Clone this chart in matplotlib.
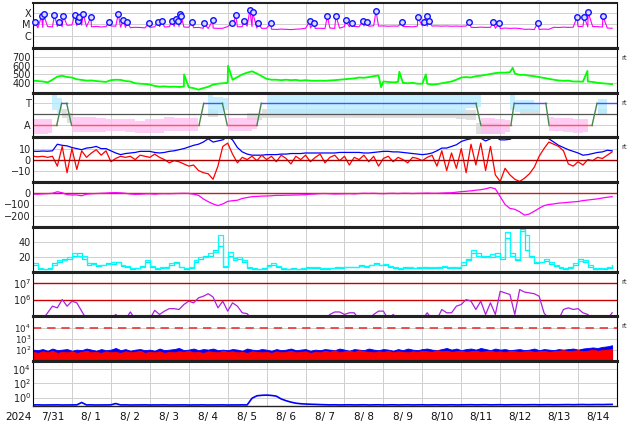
import numpy as np
import matplotlib
matplotlib.use("Agg")
import matplotlib.pyplot as plt

# ---------------- data (time in days since 2024-07-31 00:00) ----------------
date_labels = ['7/31', '8/ 1', '8/ 2', '8/ 3', '8/ 4', '8/ 5', '8/ 6', '8/ 7',
               '8/ 8', '8/ 9', '8/10', '8/11', '8/12', '8/13', '8/14']
year_label = '2024'

# X-ray background flux (units 1e-6 W/m2), 3-hourly
xray_bg = [4.6, 5.0, 5.5, 6.5, 6.2, 6.8, 6.5, 8.5, 9.0, 8.0,
           8.8, 6.5, 6.2, 6.8, 6.0, 6.5, 7.4, 7.0, 5.8, 5.5,
           5.2, 5.6, 5.4, 5.0, 5.5, 6.2, 6.5, 6.0, 6.3, 6.8,
           6.5, 6.0, 5.6, 5.2, 5.5, 4.6, 4.4, 4.8, 4.5, 4.6,
           6.5, 6.8, 6.2, 6.5, 7.0, 6.5, 4.8, 4.5, 4.6, 3.8,
           3.6, 3.9, 3.7, 3.5, 3.8, 4.0, 4.6, 4.8, 4.5, 4.6,
           4.4, 4.8, 4.5, 4.7, 6.5, 6.2, 6.8, 6.3, 7.4, 7.0,
           7.6, 7.2, 7.5, 7.0, 7.3, 7.1, 6.8, 6.5, 6.2, 7.2,
           7.4, 7.0, 7.3, 7.5, 7.1, 7.4, 7.0, 7.2, 6.9, 7.3,
           5.6, 5.4, 5.8, 5.5, 5.6, 4.6, 4.4, 4.8, 4.5, 4.7,
           4.4, 3.7, 3.8, 3.5, 3.6, 3.9, 3.7, 5.6, 5.4, 5.8,
           5.5, 5.7, 6.5, 6.8, 6.2, 6.6, 6.4, 6.0, 4.8, 4.6]
# flare peaks: time (days) and peak flux (W/m2)
flare_t = [0.05, 0.22, 0.27, 0.55, 0.67, 0.78, 1.07, 1.16, 1.19, 1.29,
           1.49, 1.96, 2.19, 2.32, 2.42, 2.98, 3.21, 3.32, 3.57, 3.68,
           3.73, 3.78, 3.81, 4.08, 4.39, 4.62, 5.11, 5.21, 5.42, 5.57,
           5.64, 5.78, 6.11, 7.11, 7.21, 7.56, 7.78, 8.03, 8.19, 8.47,
           8.57, 8.81, 9.49, 9.88, 10.03, 10.11, 10.17, 11.21, 11.82, 11.98,
           12.96, 13.97, 14.16, 14.26, 14.64]
flare_peak = [1.8e-5, 5.8e-5, 8.1e-5, 6.6e-5, 1.6e-5, 5.8e-5, 6.6e-5, 1.9e-5, 4.4e-5, 8.1e-5,
              4.7e-5, 1.6e-5, 8.1e-5, 2.4e-5, 1.6e-5, 1.3e-5, 1.6e-5, 1.9e-5, 1.9e-5, 2.9e-5,
              1.9e-5, 8.1e-5, 5.4e-5, 1.6e-5, 1.3e-5, 2.4e-5, 1.3e-5, 6.6e-5, 1.9e-5, 1.9e-4,
              1.2e-4, 1.3e-5, 1.3e-5, 1.9e-5, 1.3e-5, 5.4e-5, 6.1e-5, 2.4e-5, 1.3e-5, 1.9e-5,
              1.6e-5, 1.6e-4, 1.6e-5, 4.4e-5, 1.6e-5, 5.4e-5, 1.9e-5, 1.6e-5, 1.6e-5, 1.3e-5,
              1.3e-5, 4.4e-5, 4.4e-5, 1.2e-4, 5.4e-5]

# solar wind speed (km/s), 3-hourly, plus isolated spikes
speed = [430, 425, 420, 410, 440, 475, 485, 470, 465, 445,
         438, 430, 432, 425, 420, 415, 435, 440, 438, 425,
         420, 400, 395, 392, 385, 370, 362, 365, 360, 362,
         358, 362, 355, 345, 328, 345, 360, 385, 395, 400,
         405, 440, 470, 500, 520, 535, 510, 480, 450, 440,
         440, 435, 440, 435, 438, 430, 435, 430, 428, 430,
         428, 432, 435, 440, 445, 450, 455, 465, 462, 470,
         480, 488, 420, 415, 410, 415, 405, 400, 405, 395,
         395, 395, 385, 390, 400, 410, 420, 440, 465, 470,
         465, 480, 485, 495, 505, 515, 520, 520, 525, 510,
         495, 495, 485, 480, 470, 460, 450, 440, 432, 428,
         430, 420, 420, 418, 420, 415, 405, 400, 395, 390]
speed_spike_t = [3.88, 5.01, 8.94, 9.41, 10.09, 12.32, 14.24]
speed_spike_v = [500, 598, 356, 530, 500, 575, 540]

# IMF sector polarity: +1 toward, -1 away
sector_t = [0.0, 0.608, 0.736, 0.864, 0.992, 4.264, 4.385, 4.864, 4.992, 5.751,
            5.864, 11.377, 11.505, 12.274, 12.359, 13.172, 13.256, 14.359, 14.487, 15.0]
sector_v = [-1, -1, 1, 1, -1, -1, 1, 1, -1, -1, 1, 1, -1, -1, 1, 1, -1, -1, 1, 1]
nan = np.nan
# 6-hourly ranges of the IMF angle points (toward / away / ambiguous)
toward_lo = [nan, nan, 0.4, 0.1, nan, nan, 0.0, nan, nan, nan,
             nan, 0.7, nan, nan, nan, nan, nan, nan, 0.1, 0.1,
             0.4, nan, 0.4, nan, 0.1, 0.1, 0.1, 0.1, 0.1, 0.1,
             0.1, 0.1, 0.1, 0.1, 0.1, 0.1, 0.1, 0.1, 0.1, 0.1,
             0.1, 0.1, 0.1, 0.1, 0.1, 0.6, 0.7, nan, nan, 0.4,
             0.2, 0.2, 0.2, nan, nan, 1.2, nan, nan, 0.1, 0.1]
toward_hi = [nan, nan, 1.8, 1.5, nan, nan, 1.0, nan, nan, nan,
             nan, 1.85, nan, nan, nan, nan, nan, nan, 1.85, 1.6,
             1.5, nan, 1.85, nan, 1.85, 1.85, 1.85, 1.8, 1.85, 1.85,
             1.8, 1.85, 1.85, 1.8, 1.85, 1.85, 1.8, 1.85, 1.85, 1.8,
             1.85, 1.85, 1.8, 1.85, 1.7, 1.7, 1.8, nan, nan, 1.85,
             1.3, 1.3, 1.0, nan, nan, 1.85, nan, nan, 1.4, 1.4]
away_lo = [-1.8, -1.8, -1.7, nan, -1.6, -1.6, -1.6, -1.6, -1.5, -1.5,
           -1.6, -1.7, -1.7, -1.7, -1.5, -1.5, -1.5, -1.5, nan, nan,
           -1.5, -1.5, -1.5, -1.3, nan, nan, nan, nan, nan, nan,
           nan, nan, nan, nan, nan, nan, nan, nan, nan, nan,
           nan, nan, nan, nan, nan, nan, -1.8, -1.8, -1.8, -1.6,
           nan, nan, nan, -1.5, -1.5, -1.6, -1.7, -1.6, nan, nan]
away_hi = [-0.4, -0.4, -0.4, nan, -0.2, -0.2, -0.2, -0.3, -0.4, -0.4,
           -0.4, -0.6, -0.4, -0.4, -0.2, -0.3, -0.3, -0.3, nan, nan,
           -0.35, -0.35, -0.3, -0.3, nan, nan, nan, nan, nan, nan,
           nan, nan, nan, nan, nan, nan, nan, nan, nan, nan,
           nan, nan, nan, nan, nan, nan, -0.3, -0.3, -0.4, -0.5,
           nan, nan, nan, -0.2, -0.3, -0.3, -0.4, -0.4, nan, nan]
ambig_lo = [nan, nan, nan, -0.35, -0.8, nan, nan, nan, nan, nan,
            nan, nan, -1.8, nan, nan, nan, -1.1, nan, -0.2, -0.2,
            nan, nan, -0.5, -0.5, -0.35, -0.35, -0.35, -0.35, -0.35, -0.35,
            -0.35, -0.35, -0.35, -0.35, -0.35, -0.35, -0.35, -0.35, -0.35, -0.35,
            -0.35, -0.35, -0.35, -0.35, -0.4, -0.5, -1.8, -1.8, -1.8, nan,
            -0.1, -0.1, -0.1, nan, nan, nan, -1.8, nan, -0.1, -0.1]
ambig_hi = [nan, nan, nan, 0.5, 0.1, nan, nan, nan, nan, nan,
            nan, nan, -0.8, nan, nan, nan, -0.2, nan, 0.5, 0.4,
            nan, nan, 0.1, 0.1, 0.5, 0.5, 0.5, 0.5, 0.5, 0.5,
            0.5, 0.5, 0.5, 0.5, 0.5, 0.5, 0.5, 0.5, 0.5, 0.5,
            0.5, 0.5, 0.5, 0.5, 0.4, 0.4, -0.8, -0.8, -0.8, nan,
            0.5, 0.5, 0.4, nan, nan, nan, -0.8, nan, 0.5, 0.5]

# IMF |B| and Bz (nT), 3-hourly
bt = [7.6, 7.5, 7.8, 7.6, 8, 14, 13, 12.5, 11, 10,
      9, 10.5, 11, 12, 10, 10, 8, 6, 4.5, 5.5,
      6, 6.5, 7.5, 7.5, 7.5, 6.5, 6, 6.5, 7.5, 8,
      9, 10, 11.5, 13, 14, 16, 19, 16, 17, 18,
      21, 18, 11, 7, 5, 4, 4, 4, 4.5, 4.5,
      4.5, 5, 5, 5.5, 5.5, 5.5, 6, 6, 6, 6,
      6, 6, 6, 6.5, 6.5, 6.5, 6.5, 6.5, 6, 6,
      6.5, 7, 7.5, 7.5, 7, 7, 6.5, 6, 5.5, 5,
      4.5, 5, 6, 8, 10.5, 10.5, 12, 13.5, 16.5, 18,
      19, 21, 19.5, 17, 19, 21, 18, 18, 18.5, 21,
      21, 21, 21, 21, 21, 21, 19, 16, 13, 11,
      9, 7.5, 6, 4, 4.5, 5.5, 6.5, 7, 8.5, 8]
bz = [3, 2.5, 3, 2, 3, -6, 12, -12, 10, -9,
      8, 2, 6, 9, 4, 8, -2, 1, 3, 2,
      3, 0, 4, 3, 2, 5, 2, 0, -3, -1,
      -2, -4, -6, -5, -10, -12, -13, -18, -6, 12,
      15, 5, -3, 2, 0, 3, -1, 4, 0, 3,
      -2, 4, 1, -4, 3, 0, 4, -2, 2, 5,
      -3, 2, 4, -1, 3, -5, 2, 0, 4, -2,
      3, -6, 1, 3, -2, 2, 0, -3, 2, 1,
      -1, 2, 4, -6, 8, -10, 6, -8, 10, -12,
      14, -5, 15, -10, 12, -14, -20, -8, -14, -18,
      -20, -17, -13, -7, 3, 10, 16, 14, 12, 8,
      -4, -6, -2, -5, 0, -1, 2, 1, 4, 7]

# Dst (nT), 3-hourly
dst = [-6, -8, -5, -3, 0, 14, 5, -12, -15, -15,
       -22, -8, -4, -2, 0, 2, 5, 6, 4, 0,
       -6, -9, -8, -5, -4, -8, -4, -3, -4, -2,
       -1, 0, -1, -8, -18, -50, -75, -95, -110, -95,
       -72, -66, -62, -46, -38, -30, -28, -25, -24, -22,
       -18, -18, -17, -16, -15, -14, -12, -8, -6, -3,
       -2, -4, -6, -5, -4, -3, -5, -2, 0, -1,
       0, -2, -3, -1, 0, -2, 0, 0, -2, 0,
       0, 2, 0, 0, 2, 4, 5, 10, 15, 18,
       22, 28, 32, 40, 52, 40, -30, -100, -135, -143,
       -165, -195, -185, -160, -134, -110, -100, -95, -88, -85,
       -80, -77, -73, -65, -60, -55, -50, -42, -35, -30]

# two geomagnetic index traces, 3-hourly
geo_a = [12, 5, 4, 4, 9, 16, 16, 20, 25, 22,
         22, 12, 11, 9, 9, 11, 13, 13, 9, 8,
         5, 5, 6, 16, 8, 5, 6, 5, 12, 12,
         6, 5, 6, 16, 20, 20, 25, 27, 49, 8,
         27, 16, 20, 16, 6, 5, 4, 4, 8, 12,
         8, 5, 4, 4, 4, 5, 5, 6, 6, 5,
         5, 5, 5, 6, 6, 7, 6, 8, 7, 10,
         11, 9, 11, 8, 6, 5, 5, 6, 5, 6,
         5, 6, 6, 5, 8, 6, 5, 6, 13, 16,
         29, 22, 22, 20, 24, 22, 20, 53, 22, 18,
         58, 49, 20, 14, 13, 17, 13, 9, 6, 5,
         5, 12, 15, 16, 9, 5, 4, 5, 6, 9]
geo_b = [9, 4, 4, 5, 12, 14, 18, 18, 22, 25,
         18, 10, 12, 8, 10, 12, 11, 14, 8, 6,
         4, 5, 8, 13, 6, 4, 5, 6, 10, 13,
         7, 4, 5, 13, 18, 22, 22, 30, 35, 6,
         22, 19, 18, 14, 5, 4, 4, 5, 10, 9,
         6, 4, 4, 5, 4, 4, 6, 5, 5, 4,
         4, 5, 6, 5, 7, 6, 7, 9, 8, 9,
         12, 10, 9, 7, 5, 4, 6, 5, 5, 5,
         6, 5, 5, 6, 7, 5, 6, 5, 10, 18,
         25, 26, 20, 22, 20, 25, 18, 45, 25, 16,
         55, 30, 22, 12, 14, 15, 11, 8, 5, 4,
         6, 10, 17, 14, 7, 4, 5, 4, 5, 8]

# electron flux (log10), 3-hourly; 4.8 = below plotted range
e_log = [4.8, 4.8, 4.8, 5.2, 5.6, 5.5, 6.0, 5.6, 5.9, 5.8,
         5.3, 4.8, 4.8, 4.8, 4.8, 4.8, 4.8, 5.1, 4.8, 4.8,
         5.25, 4.8, 4.8, 4.8, 4.8, 5.35, 5.1, 5.3, 5.45, 5.45,
         5.4, 5.7, 5.9, 5.8, 6.1, 6.2, 6.35, 6.15, 5.5, 5.9,
         5.3, 5.8, 5.6, 5.2, 5.15, 4.8, 4.8, 4.8, 4.8, 4.8,
         4.8, 4.8, 4.8, 4.8, 4.8, 4.8, 4.8, 4.8, 4.8, 4.8,
         4.8, 5.1, 5.25, 5.25, 5.1, 5.2, 5.2, 4.8, 4.8, 4.8,
         5.1, 5.3, 5.3, 4.8, 5.1, 4.8, 4.8, 4.8, 4.8, 4.8,
         4.8, 5.2, 4.8, 4.8, 5.4, 5.2, 5.2, 5.6, 5.7, 6.0,
         5.9, 5.4, 5.9, 5.1, 5.8, 5.1, 6.5, 6.4, 6.3, 5.1,
         6.6, 6.45, 6.4, 6.35, 6.2, 5.2, 4.8, 4.8, 4.8, 5.4,
         5.5, 5.4, 5.45, 5.2, 5.1, 4.8, 4.8, 4.8, 4.8, 5.2]

# proton flux upper envelopes (log10), 3-hourly
p_blue = [2.0, 1.95, 2.05, 1.9, 2.1, 1.95, 2.0, 2.05, 1.9, 2.0,
          1.95, 2.1, 2.0, 1.9, 2.05, 1.95, 2.0, 2.15, 1.95, 2.05,
          1.9, 2.0, 2.05, 1.95, 2.0, 1.9, 2.1, 1.95, 2.0, 2.05,
          2.15, 1.95, 2.0, 2.1, 1.95, 2.05, 2.0, 2.1, 1.95, 2.0,
          1.95, 2.05, 2.0, 1.9, 2.1, 2.0, 1.95, 2.05, 2.0, 1.9,
          2.05, 1.95, 2.0, 2.1, 1.95, 2.0, 2.05, 1.9, 2.0, 1.95,
          2.05, 2.0, 1.95, 2.1, 2.0, 1.9, 2.05, 2.0, 1.95, 2.1,
          2.0, 1.95, 2.05, 2.0, 1.9, 2.05, 1.95, 2.1, 2.0, 1.95,
          2.05, 2.1, 2.0, 1.95, 2.05, 2.15, 2.0, 2.1, 1.95, 2.05,
          2.1, 2.0, 2.15, 2.05, 1.95, 2.1, 2.0, 2.05, 1.95, 2.0,
          2.05, 1.95, 2.0, 2.1, 1.95, 2.05, 2.0, 1.95, 2.05, 2.0,
          2.05, 2.1, 2.0, 2.1, 2.15, 2.2, 2.15, 2.25, 2.3, 2.4]
p_red = [1.8, 1.7, 1.85, 1.75, 1.9, 1.7, 1.8, 1.75, 1.85, 1.7,
         1.8, 1.9, 1.75, 1.8, 1.7, 1.85, 1.75, 1.8, 1.7, 1.85,
         1.75, 1.8, 1.9, 1.7, 1.8, 1.75, 1.85, 1.7, 1.8, 1.75,
         1.85, 1.8, 1.9, 1.75, 1.8, 1.7, 1.85, 1.8, 1.75, 1.9,
         1.8, 1.85, 1.75, 1.8, 1.7, 1.85, 1.8, 1.75, 1.8, 1.7,
         1.85, 1.75, 1.8, 1.9, 1.75, 1.8, 1.85, 1.7, 1.8, 1.75,
         1.9, 1.8, 1.95, 1.75, 1.85, 1.9, 1.8, 1.95, 1.85, 1.8,
         1.75, 1.85, 1.8, 1.9, 1.75, 1.85, 1.8, 1.75, 1.85, 1.8,
         1.9, 1.85, 1.8, 1.95, 1.85, 1.9, 1.8, 1.85, 1.9, 1.8,
         1.85, 1.9, 1.8, 1.85, 1.9, 1.8, 1.85, 1.75, 1.9, 1.85,
         1.8, 1.85, 1.9, 1.8, 1.85, 1.9, 1.8, 1.85, 1.9, 1.95,
         1.85, 1.9, 1.95, 1.85, 1.9, 2.0, 1.9, 1.95, 2.0, 2.05]

# high-energy proton flux (log10), 3-hourly
hp_log = [-1.05, -1.04, -1.06, -1.05, -1.05, -1.04, -1.06, -1.05, -1.05, -1.04,
          -0.7, -1.05, -1.04, -1.06, -1.05, -1.05, -1.04, -0.85, -1.05, -1.04,
          -1.06, -1.05, -1.05, -1.04, -1.06, -1.05, -1.05, -1.04, -1.06, -1.05,
          -1.05, -1.04, -1.06, -1.05, -1.05, -1.04, -1.06, -1.05, -1.05, -1.04,
          -1.06, -1.05, -1.05, -1.04, -1.05, -0.1, 0.25, 0.32, 0.35, 0.3,
          0.2, -0.2, -0.45, -0.65, -0.8, -0.88, -0.92, -0.95, -0.97, -1.0,
          -1.02, -1.04, -1.03, -1.05, -1.04, -1.03, -1.05, -1.04, -1.03, -1.05,
          -1.04, -1.03, -1.05, -1.04, -1.03, -1.05, -1.04, -1.03, -1.05, -1.04,
          -1.03, -1.05, -1.04, -1.03, -1.05, -1.04, -1.03, -1.05, -1.04, -1.03,
          -1.02, -1.04, -1.03, -1.02, -1.04, -1.03, -1.02, -1.04, -1.03, -1.02,
          -1.02, -1.03, -1.02, -1.01, -1.03, -1.02, -1.01, -1.03, -1.02, -1.01,
          -1.0, -1.02, -1.0, -0.99, -1.01, -1.0, -0.99, -1.0, -0.98, -0.97]

# ---------------- layout ----------------
W, H = 634, 424
L, R = 33, 617
TOP, BOT = 3, 406
NP = 9
PH = (BOT - TOP) / NP
FS = 7
t3 = np.arange(len(speed)) * 0.125
t6 = np.arange(len(toward_lo)) * 0.25

fig = plt.figure(figsize=(W / 100, H / 100), dpi=100)
fig.patch.set_facecolor('white')
GRID = '#cfcfcf'


def make_ax(k):
    y0 = TOP + k * PH
    ax = fig.add_axes([L / W, 1 - (y0 + PH) / H, (R - L) / W, PH / H])
    ax.set_xlim(0, 15)
    ax.set_xticks(np.arange(1, 15))
    ax.tick_params(axis='x', length=0, labelbottom=False)
    ax.tick_params(axis='y', which='both', length=0, pad=1.5, labelsize=FS,
                   colors='#222222')
    ax.grid(True, color=GRID, lw=0.7)
    ax.set_axisbelow(True)
    for s in ['left', 'right']:
        ax.spines[s].set_linewidth(0.8)
    for s in ['top', 'bottom']:
        ax.spines[s].set_linewidth(2.2)
        ax.spines[s].set_color('#222222')
    return ax


def rt(k):
    fig.text(621 / W, 1 - (TOP + k * PH + 10) / H, 'rt', fontsize=5,
             color='#333333', ha='left', va='center')


def log_ticks(ax, exps, size=FS):
    ax.set_yticks([10.0 ** e for e in exps])
    ax.set_yticklabels(['$10^{%d}$' % e for e in exps], fontsize=size)
    ax.yaxis.set_minor_locator(matplotlib.ticker.NullLocator())


# panel 1: X-ray flux
ax = make_ax(0)
ax.spines['top'].set_linewidth(1.5)
ax.set_yscale('log')
ax.set_ylim(10 ** -7.08, 10 ** -3.08)
ax.set_yticks([1e-6, 1e-5, 1e-4])
ax.set_yticklabels(['C', 'M', 'X'])
ax.yaxis.set_minor_locator(matplotlib.ticker.NullLocator())
tx = np.concatenate([t3, flare_t])
fx = np.concatenate([np.array(xray_bg) * 1e-6, flare_peak])
o = np.argsort(tx)
ax.plot(tx[o], fx[o], color='#ff00ff', lw=0.8)
ax.plot(flare_t, flare_peak, 'o', ms=4.0, mfc='#dcdcff', mec='#1010ff', mew=1.0,
        zorder=5, clip_on=False)

# panel 2: solar wind speed
ax = make_ax(1)
ax.set_ylim(295, 801)
ax.set_yticks([400, 500, 600, 700])
sx = np.concatenate([t3, speed_spike_t])
sv = np.concatenate([speed, speed_spike_v])
o = np.argsort(sx)
ax.plot(sx[o], sv[o], color='#00ff00', lw=1.3)
rt(1)

# panel 3: sector
ax = make_ax(2)
ax.set_ylim(-2.07, 1.96)
ax.set_yticks([1, -1])
ax.set_yticklabels(['T', 'A'])
ax.axhline(0, color='#555555', lw=0.9)
ax.fill_between(t6, ambig_lo, ambig_hi, step='mid', color='#d8d8d8', lw=0, alpha=0.8)
ax.fill_between(t6, away_lo, away_hi, step='mid', color='#ffbcf4', lw=0, alpha=0.75)
ax.fill_between(t6, toward_lo, toward_hi, step='mid', color='#b8ecff', lw=0, alpha=0.8)
for i in range(len(sector_t) - 1):
    a, b = sector_v[i], sector_v[i + 1]
    c = '#4455ff' if (a > 0 and b > 0) else ('#ff5555' if (a < 0 and b < 0) else '#44884a')
    ax.plot(sector_t[i:i + 2], sector_v[i:i + 2], color=c, lw=1.0)
rt(2)

# panel 4: IMF
ax = make_ax(3)
ax.set_ylim(-20.6, 20.3)
ax.set_yticks([10, 0, -10])
ax.set_yticklabels(['10', '0', '\u221210'])
ax.plot(t3, bt, color='#0000ff', lw=0.9)
ax.plot(t3, bz, color='#ff0000', lw=0.9)
ax.axhline(0, color='#aa0000', lw=1.0)
rt(3)

# panel 5: Dst
ax = make_ax(4)
ax.set_ylim(-300, 100)
ax.set_yticks([0, -100, -200])
ax.set_yticklabels(['0', '\u2212100', '\u2212200'])
ax.axhline(0, color='#bb2222', lw=1.0)
ax.plot(t3, dst, color='#ff00ff', lw=0.9)

# panel 6: geomagnetic index
ax = make_ax(5)
ax.set_ylim(0.4, 60.4)
ax.set_yticks([20, 40])
ax.plot(t3, geo_b, color='#00f0f0', lw=0.9, drawstyle='steps-post')
ax.plot(t3, geo_a, color='#00ffff', lw=0.9, drawstyle='steps-post')

# panel 7: electrons
ax = make_ax(6)
ax.set_yscale('log')
ax.set_ylim(10 ** 4.98, 10 ** 7.68)
log_ticks(ax, [6, 7])
ax.axhline(1e6, color='#cc0000', lw=1.0)
ax.axhline(1e7, color='#cc0000', lw=1.0)
ax.plot(t3, 10.0 ** np.array(e_log), color='#aa22dd', lw=0.9)
rt(6)

# panel 8: protons
ax = make_ax(7)
ax.set_yscale('log')
ax.set_ylim(10 ** 0.94, 10 ** 5.03)
log_ticks(ax, [2, 3, 4], size=6.2)
ax.fill_between(t3, 1.0, 10.0 ** np.array(p_blue), color='#0000ff', lw=0.6)
ax.fill_between(t3, 1.0, 10.0 ** np.array(p_red), color='#ff0000', lw=0.6)
ax.axhline(1e4, color='#ee3333', lw=1.2, dashes=(5, 3.5))
rt(7)

# panel 9: high-energy protons
ax = make_ax(8)
ax.spines['bottom'].set_linewidth(1.0)
ax.set_yscale('log')
ax.set_ylim(10 ** -1.2, 10 ** 5.16)
log_ticks(ax, [0, 2, 4])
ax.plot(t3, 10.0 ** np.array(hp_log), color='#0000ff', lw=1.2)
ax.set_xticks(np.arange(15) + 0.5, minor=True)
ax.set_xticklabels(date_labels, minor=True)
ax.tick_params(axis='x', which='minor', length=0, labelsize=FS + 0.5, pad=4,
               labelbottom=True, colors='#111111')

fig.text(18 / W, 1 - 417 / H, year_label, fontsize=FS + 0.5, ha='center', va='center',
         color='#111111')

fig.savefig('out.png', dpi=100, facecolor='white')
